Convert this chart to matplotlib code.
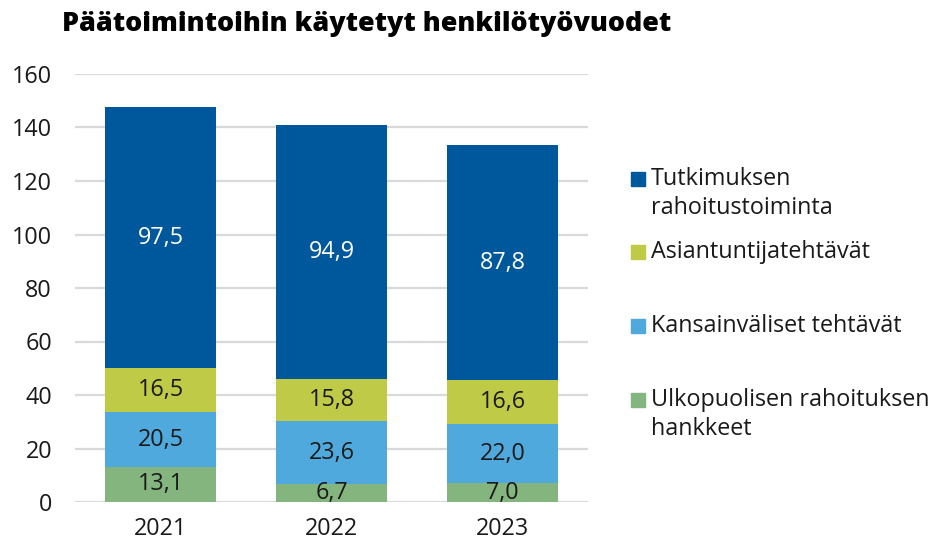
import matplotlib
matplotlib.use("Agg")
import matplotlib.pyplot as plt
from matplotlib.patches import Rectangle
import numpy as np

years = ["2021", "2022", "2023"]
series_names = ["Ulkopuolisen rahoituksen\nhankkeet", "Kansainväliset tehtävät",
                "Asiantuntijatehtävät", "Tutkimuksen\nrahoitustoiminta"]
ulkopuolinen = [13.1, 6.7, 7.0]
kansainvaliset = [20.5, 23.6, 22.0]
asiantuntija = [16.5, 15.8, 16.6]
tutkimus = [97.5, 94.9, 87.8]
yticks = [0, 20, 40, 60, 80, 100, 120, 140, 160]

values = [ulkopuolinen, kansainvaliset, asiantuntija, tutkimus]
colors = ["#84B57E", "#4FA9DC", "#BFCA46", "#00589C"]
label_colors = ["#1a1a1a", "#1a1a1a", "#1a1a1a", "white"]

plt.rcParams['font.family'] = ['Open Sans', 'DejaVu Sans']
FS = 16.8

fig = plt.figure(figsize=(9.31, 5.42), dpi=100)
ax = fig.add_axes([75/931, 1-502/542, 513/931, 428/542])

x = np.arange(len(years))
bottom = np.zeros(len(years))
for vals, col, lc in zip(values, colors, label_colors):
    vals = np.array(vals)
    ax.bar(x, vals, bottom=bottom, width=0.65, color=col, zorder=3)
    for xi, b, v in zip(x, bottom, vals):
        ax.text(xi, b + v/2, f"{v:.1f}".replace(".", ","), ha="center", va="center",
                color=lc, fontsize=FS, zorder=4)
    bottom += vals

ax.set_xlim(-0.5, 2.5)
ax.set_ylim(0, 160)
ax.set_yticks(yticks)
ax.set_yticklabels([str(t) for t in yticks], fontsize=FS, color="#1a1a1a")
ax.set_xticks(x)
ax.set_xticklabels(years, fontsize=FS, color="#1a1a1a")
ax.tick_params(axis="both", length=0)
ax.tick_params(axis="y", pad=16.5)
ax.tick_params(axis="x", pad=11)
ax.grid(axis="y", color="#D9D9D9", linewidth=1.6, zorder=0)
for s in ax.spines.values():
    s.set_visible(False)

fig.text(62/931, 1-31/542, "Päätoimintoihin käytetyt henkilötyövuodet", fontsize=19.4,
         fontweight="heavy", va="baseline", ha="left", color="black")

# legend (manual)
entries = [(3, 179), (2, 252), (1, 326), (0, 400)]
for idx, ypx in entries:
    fig.patches.append(Rectangle((631/931, 1-(ypx+7)/542), 14/931, 14/542,
                                 transform=fig.transFigure, color=colors[idx]))
    for k, line in enumerate(series_names[idx].split("\n")):
        fig.text(651/931, 1-(ypx + 29*k)/542, line, fontsize=FS, va="center", ha="left",
                 color="#1a1a1a")

fig.savefig("out.png", dpi=100)
